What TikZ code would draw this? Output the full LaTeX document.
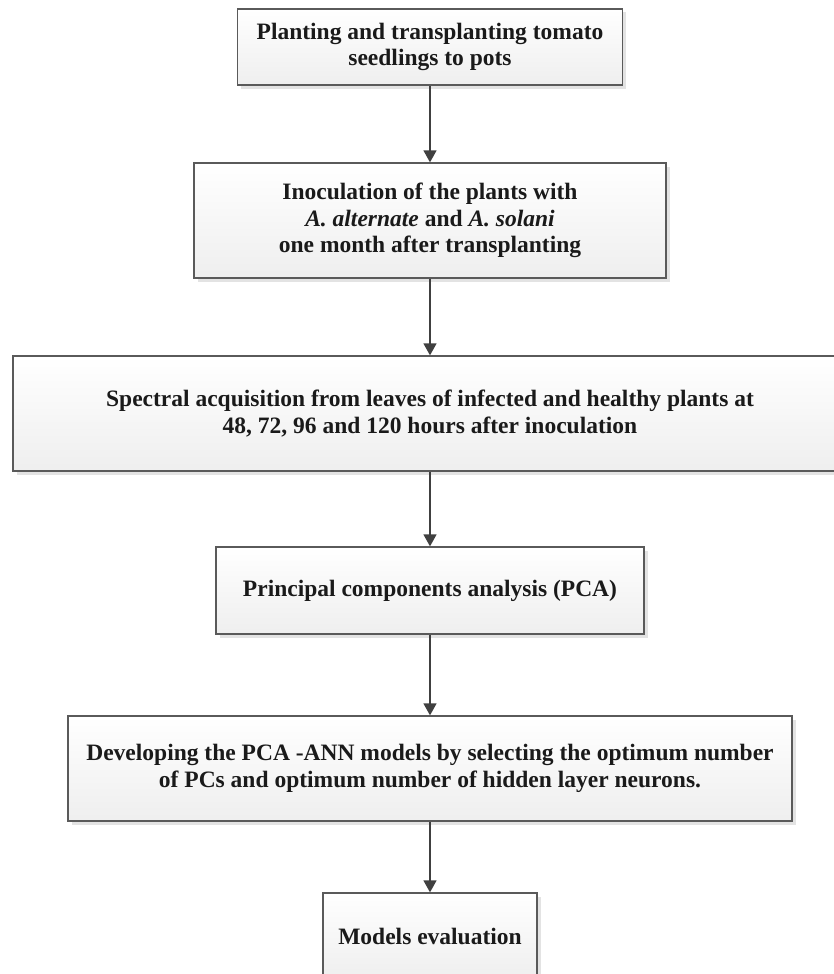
\documentclass[tikz,border=0pt]{standalone}
\usepackage{fontspec}
\setmainfont{Liberation Serif}
\usetikzlibrary{arrows.meta,shadows}
\definecolor{boxline}{HTML}{5A5A5A}
\definecolor{arrowc}{HTML}{404040}
\definecolor{txt}{HTML}{1A1A1A}
\begin{document}
\begin{tikzpicture}[x=1pt,y=-1pt,
  stepbox/.style={draw=boxline, line width=1.3pt, top color=white, bottom color=gray!13,
    inner sep=0pt, align=center, text=txt,
    font=\fontsize{23.5}{26.5}\selectfont\bfseries,
    drop shadow={shadow xshift=3.5pt, shadow yshift=-3.5pt, fill=gray!22, opacity=1}},
  flow/.style={draw=arrowc, line width=1.4pt, -{Triangle[width=13pt,length=12pt]}, arrowc}]
\useasboundingbox (0,0) rectangle (834,974);
\clip (0,0) rectangle (834,974);
\node[stepbox, minimum width=385pt, minimum height=76pt] (b1) at (430,47)
  {Planting and transplanting tomato\\seedlings to pots};
\node[stepbox, minimum width=472pt, minimum height=115pt] (b2) at (430,220.5)
  {Inoculation of the plants with\\\textit{A. alternate} and \textit{A. solani}\\one month after transplanting};
\node[stepbox, minimum width=834pt, minimum height=115pt] (b3) at (430,413.5)
  {Spectral acquisition from leaves of infected and healthy plants at\\48, 72, 96 and 120 hours after inoculation};
\node[stepbox, minimum width=428pt, minimum height=87pt] (b4) at (430,590.5)
  {Principal components analysis (PCA)};
\node[stepbox, minimum width=724pt, minimum height=105pt] (b5) at (430,768.5)
  {Developing the PCA -ANN models by selecting the optimum number\\of PCs and optimum number of hidden layer neurons.};
\node[stepbox, minimum width=214pt, minimum height=86pt] (b6) at (430,936)
  {Models evaluation};
\draw[flow] (b1.south) -- (b2.north);
\draw[flow] (b2.south) -- (b3.north);
\draw[flow] (b3.south) -- (b4.north);
\draw[flow] (b4.south) -- (b5.north);
\draw[flow] (b5.south) -- (b6.north);
\end{tikzpicture}
\end{document}
